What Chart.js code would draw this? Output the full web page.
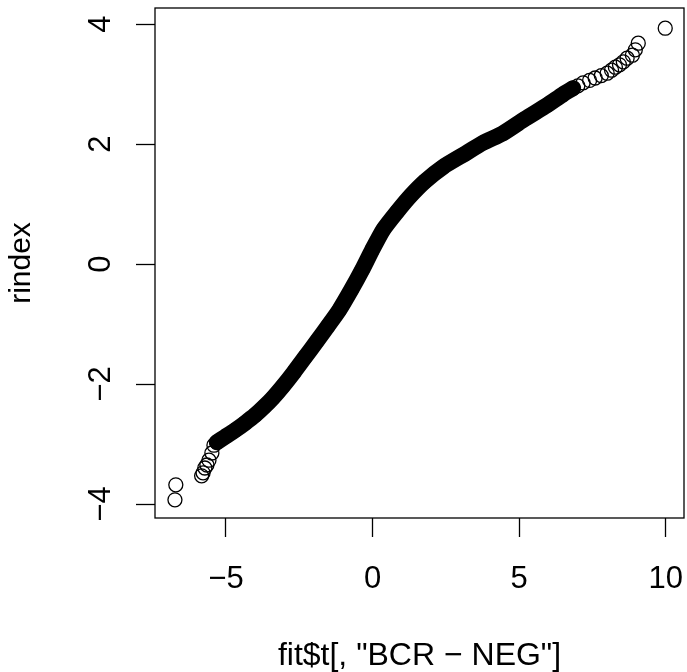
<!DOCTYPE html>
<html>
<head>
<meta charset="utf-8">
<script src="https://cdn.jsdelivr.net/npm/chart.js@4"></script>
<style>
  html, body { margin: 0; padding: 0; background: #fff; }
  #wrap { width: 687px; height: 672px; }
</style>
</head>
<body>
<div id="wrap"><canvas id="qq" width="687" height="672"></canvas></div>
<script>
// dense middle part of the sorted pairs (t statistic vs rindex)
const bodyT = [-5.31, -5.03, -4.69, -4.35, -4.01, -3.70, -3.40, -3.05, -2.68, -2.30, -1.89, -1.52, -1.14, -0.73, -0.36, -0.02, 0.36, 0.85, 1.30, 1.79, 2.41, 3.09, 3.77, 4.45, 5.20, 5.96, 6.50, 6.84];
const bodyR = [-2.97, -2.88, -2.77, -2.65, -2.52, -2.38, -2.23, -2.03, -1.80, -1.55, -1.28, -1.03, -0.77, -0.43, -0.10, 0.23, 0.57, 0.88, 1.14, 1.38, 1.62, 1.82, 2.02, 2.18, 2.42, 2.65, 2.83, 2.93];

// sparse tails, where single circles can be seen
const lowT = [-6.74, -6.71, -5.83, -5.78, -5.72, -5.65, -5.58, -5.48, -5.41];
const lowR = [-3.93, -3.68, -3.53, -3.48, -3.40, -3.35, -3.27, -3.15, -3.02];
const highT = [7.00, 7.18, 7.40, 7.59, 7.80, 8.00, 8.15, 8.28, 8.42, 8.55, 8.68, 8.86, 8.96, 9.06, 9.98];
const highR = [2.97, 3.02, 3.06, 3.10, 3.14, 3.18, 3.23, 3.28, 3.32, 3.37, 3.43, 3.48, 3.57, 3.68, 3.93];

const xTicks = [-5, 0, 5, 10];
const yTicks = [-4, -2, 0, 2, 4];

const FONT = "'Liberation Sans', Arial, Helvetica, sans-serif";
const minus = (v) => v < 0 ? '\u2212' + Math.abs(v) : String(v);
const pairs = (xs, ys) => xs.map((x, i) => ({ x: x, y: ys[i] }));

// R style box around the plot region
const boxPlugin = {
    id: 'box',
    afterDraw(chart) {
        const a = chart.chartArea;
        const ctx = chart.ctx;
        ctx.save();
        ctx.strokeStyle = '#000';
        ctx.lineWidth = 1.3;
        ctx.strokeRect(a.left, a.top, a.right - a.left, a.bottom - a.top);
        ctx.restore();
    }
};

// no extra room for half labels at the ends, the plot box is fixed
const noPad = (s) => {
    s.paddingLeft = 0;
    s.paddingRight = 0;
    s.paddingTop = 0;
    s.paddingBottom = 0;
};

const pointStyle = {
    pointRadius: 7,
    pointBorderWidth: 1.3,
    pointBorderColor: '#000',
    pointBackgroundColor: 'rgba(0,0,0,0)',
    pointHoverRadius: 7
};

new Chart(document.getElementById('qq'), {
    type: 'scatter',
    data: {
        datasets: [
            {
                data: pairs(bodyT, bodyR),
                showLine: true,
                borderColor: '#000',
                borderWidth: 16,
                borderCapStyle: 'round',
                borderJoinStyle: 'round',
                tension: 0.2,
                ...pointStyle
            },
            {
                data: pairs(lowT, lowR).concat(pairs(highT, highR)),
                showLine: false,
                ...pointStyle
            }
        ]
    },
    options: {
        responsive: false,
        animation: false,
        layout: { autoPadding: false, padding: { top: 8, right: 3, left: 0, bottom: 0 } },
        plugins: {
            legend: { display: false },
            tooltip: { enabled: false }
        },
        scales: {
            x: {
                type: 'linear',
                min: -7.42,
                max: 10.62,
                afterBuildTicks: (s) => { s.ticks = xTicks.map(v => ({ value: v })); },
                afterFit: (s) => { s.height = 154; noPad(s); },
                border: { display: false },
                grid: { drawOnChartArea: false, tickLength: 19, tickColor: '#000', tickWidth: 1.3 },
                ticks: {
                    color: '#000',
                    padding: 24,
                    font: { family: FONT, size: 31 },
                    maxRotation: 0,
                    autoSkip: false,
                    callback: (v) => minus(v)
                },
                title: {
                    display: true,
                    text: 'fit$t[, "BCR \u2212 NEG"]',
                    color: '#000',
                    font: { family: FONT, size: 32, lineHeight: 1 },
                    padding: { top: 0, bottom: 0 }
                }
            },
            y: {
                type: 'linear',
                min: -4.233,
                max: 4.267,
                afterBuildTicks: (s) => { s.ticks = yTicks.map(v => ({ value: v })); },
                afterFit: (s) => { s.width = 155; noPad(s); },
                border: { display: false },
                grid: { drawOnChartArea: false, tickLength: 19, tickColor: '#000', tickWidth: 1.3 },
                ticks: {
                    color: '#000',
                    padding: 17,
                    minRotation: 90,
                    maxRotation: 90,
                    crossAlign: 'center',
                    font: { family: FONT, size: 31 },
                    autoSkip: false,
                    callback: (v) => minus(v)
                },
                title: {
                    display: true,
                    text: 'rindex',
                    color: '#000',
                    font: { family: FONT, size: 30, lineHeight: 1 },
                    padding: { top: 7, bottom: 0 }
                }
            }
        }
    },
    plugins: [boxPlugin]
});
</script>
</body>
</html>
